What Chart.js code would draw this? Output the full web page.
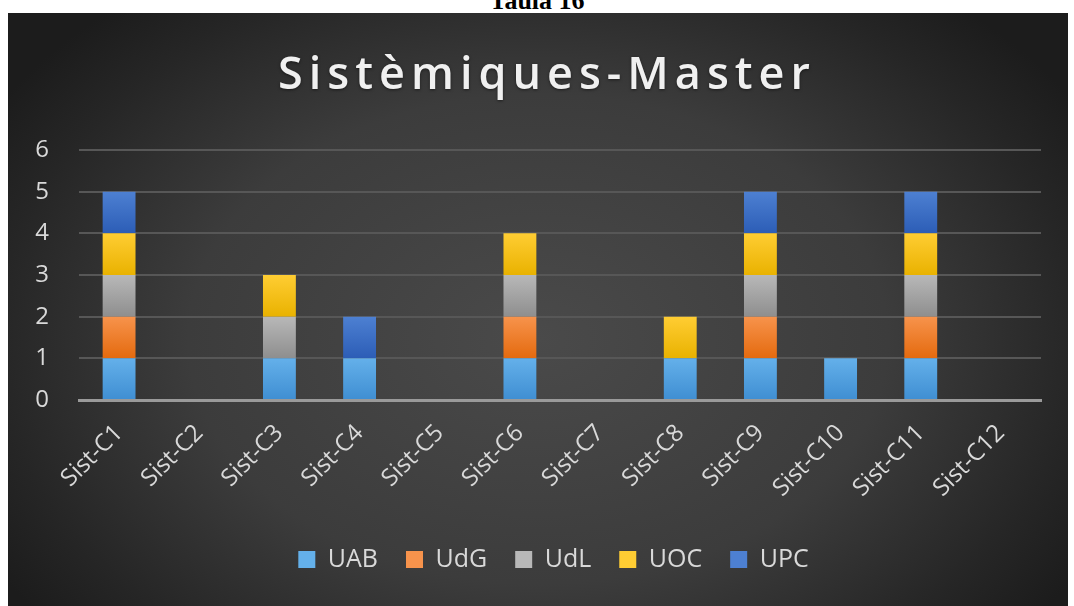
<!DOCTYPE html>
<html>
<head>
<meta charset="utf-8">
<script src="https://cdn.jsdelivr.net/npm/chart.js@4.4.1/dist/chart.umd.min.js"></script>
<style>
  body { margin: 0; background: #fff; width: 1074px; height: 606px; overflow: hidden; position: relative; }
  #caption { position: absolute; top: -14px; left: 0; width: 1074px; text-align: center; line-height: 26px;
    font: bold 26px "Liberation Serif", serif; color: #000; }
  #box { position: absolute; left: 8px; top: 13px; width: 1060px; height: 593px;
    background: radial-gradient(ellipse 60% 75% at 50% 55%, #4a4a4a 0%, #3c3c3c 55%, #262626 85%, #1c1c1c 100%); }
</style>
</head>
<body>
<div id="caption">Taula 16</div>
<div id="box"><canvas id="chartCanvas" width="1060" height="593"></canvas></div>
<script>
let categories = ['Sist-C1', 'Sist-C2', 'Sist-C3', 'Sist-C4', 'Sist-C5', 'Sist-C6',
                  'Sist-C7', 'Sist-C8', 'Sist-C9', 'Sist-C10', 'Sist-C11', 'Sist-C12'];
let uab = [1, 0, 1, 1, 0, 1, 0, 1, 1, 1, 1, 0];
let udg = [1, 0, 0, 0, 0, 1, 0, 0, 1, 0, 1, 0];
let udl = [1, 0, 1, 0, 0, 1, 0, 0, 1, 0, 1, 0];
let uoc = [1, 0, 1, 0, 0, 1, 0, 1, 1, 0, 1, 0];
let upc = [1, 0, 0, 1, 0, 0, 0, 0, 1, 0, 1, 0];
let yTicks = [0, 1, 2, 3, 4, 5, 6];

let textColor = '#d9d9d9';

// top / bottom shade of each series (bars are lighter at the top)
let shades = [
    ['#64b0ea', '#3f8ed2'],
    ['#f7934c', '#e46a0e'],
    ['#b8b8b8', '#8e8e8e'],
    ['#ffcd33', '#e9b200'],
    ['#4d80d2', '#2c5db6']
];

function barFill(ctx) {
    let chart = ctx.chart;
    let y = chart.scales.y;
    let pair = shades[ctx.datasetIndex];
    if (!y || ctx.dataIndex === undefined) return pair[0];
    let start = 0;
    for (let d = 0; d < ctx.datasetIndex; d++) start += chart.data.datasets[d].data[ctx.dataIndex];
    let end = start + chart.data.datasets[ctx.datasetIndex].data[ctx.dataIndex];
    let g = chart.ctx.createLinearGradient(0, y.getPixelForValue(end), 0, y.getPixelForValue(start));
    g.addColorStop(0, pair[0]);
    g.addColorStop(1, pair[1]);
    return g;
}

let titlePlugin = {
    id: 'spacedTitle',
    afterLayout(chart) {
        // legend sits a bit right of centre in the original
        chart.legend.left += 29;
        chart.legend.right += 29;
    },
    afterDraw(chart) {
        let c = chart.ctx;
        c.save();
        c.font = '600 45px "Open Sans"';
        c.letterSpacing = '6px';
        c.fillStyle = '#f0f0f0';
        c.shadowColor = 'rgba(0,0,0,0.5)';
        c.shadowBlur = 3;
        c.shadowOffsetY = 1;
        c.textAlign = 'center';
        c.textBaseline = 'alphabetic';
        c.fillText('Sistèmiques-Master', chart.width / 2 + 9, 76);
        c.restore();
    }
};

let data = {
    labels: categories,
    datasets: [
        { label: 'UAB', data: uab },
        { label: 'UdG', data: udg },
        { label: 'UdL', data: udl },
        { label: 'UOC', data: uoc },
        { label: 'UPC', data: upc }
    ]
}
data.datasets.forEach((ds, i) => { ds.backgroundColor = barFill; ds.legendColor = shades[i][0]; });

let options = {
    responsive: false,
    animation: false,
    layout: { padding: { left: 0, right: 27, top: 137, bottom: 24 } },
    datasets: { bar: { categoryPercentage: 1, barPercentage: 0.41, borderWidth: 0 } },
    plugins: {
        title: { display: false },
        legend: {
            position: 'bottom',
            labels: {
                color: textColor,
                font: { family: 'Open Sans', size: 25 },
                boxWidth: 17, boxHeight: 17,
                padding: 28,
                generateLabels: (chart) => chart.data.datasets.map((ds, i) => ({
                    text: ds.label, fillStyle: ds.legendColor, strokeStyle: ds.legendColor,
                    lineWidth: 0, fontColor: textColor, datasetIndex: i, hidden: false
                }))
            }
        },
        tooltip: { enabled: false }
    },
    scales: {
        x: {
            stacked: true,
            grid: { display: false },
            border: { color: '#9a9a9a', width: 3 },
            ticks: { color: textColor, font: { family: 'Open Sans', size: 24 }, minRotation: 45, maxRotation: 45, padding: 11 },
            afterFit: (axis) => { axis.height = 119; }
        },
        y: {
            stacked: true,
            min: 0, max: 6,
            afterBuildTicks: (axis) => { axis.ticks = yTicks.map(v => ({ value: v })); },
            grid: { color: '#575757', lineWidth: 2, drawTicks: false },
            border: { display: false },
            ticks: { color: textColor, font: { family: 'Open Sans', size: 24 }, padding: 30 },
            afterFit: (axis) => { axis.width = 71; }
        }
    }
}

new Chart('chartCanvas', { type: 'bar', data: data, options: options, plugins: [titlePlugin] });
</script>
</body>
</html>
